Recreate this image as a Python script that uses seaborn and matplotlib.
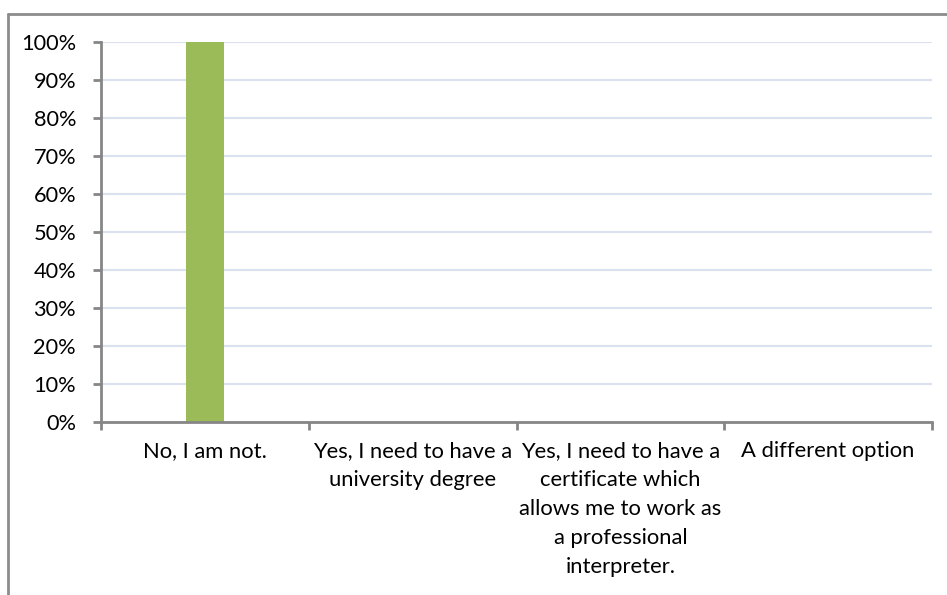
import matplotlib
matplotlib.use("Agg")
import matplotlib.pyplot as plt
import seaborn as sns
import pandas as pd
import numpy as np
from matplotlib.lines import Line2D
from matplotlib.ticker import FixedLocator, PercentFormatter

categories = [
    "No, I am not.",
    "Yes, I need to have a\nuniversity degree",
    "Yes, I need to have a\ncertificate which\nallows me to work as\na professional\ninterpreter.",
    "A different option",
]
values = [100, 0, 0, 0]
y_ticks = list(range(0, 101, 10))

sns.set_theme(style="white")
plt.rcParams['font.family'] = ['Lato', 'DejaVu Sans']

W, H = 947, 595
fig = plt.figure(figsize=(W / 100, H / 100), dpi=100)
ax = fig.add_axes([101 / W, 1 - 422 / H, (932 - 101) / W, (422 - 42) / H])

df = pd.DataFrame({"cat": categories, "val": values})
sns.barplot(data=df, x="cat", y="val", color="#9BBB59", width=0.18,
            saturation=1, linewidth=0, ax=ax, zorder=3)

ax.set_xlim(-0.5, len(categories) - 0.5)
ax.set_ylim(0, 100)
ax.set_xlabel("")
ax.set_ylabel("")

ax.yaxis.set_major_locator(FixedLocator(y_ticks))
ax.yaxis.set_major_formatter(PercentFormatter(decimals=0))
ax.grid(axis="y", color="#D9E2EE", linewidth=1.5, zorder=0)
ax.grid(axis="x", visible=False)

for s in ["top", "right"]:
    ax.spines[s].set_visible(False)
for s in ["left", "bottom"]:
    ax.spines[s].set_color("#868686")
    ax.spines[s].set_linewidth(2)
    ax.spines[s].set_zorder(4)

ax.tick_params(axis="y", which="major", direction="out", length=6, width=2,
               color="#868686", labelsize=15.7, pad=12, labelcolor="black", left=True)
ax.tick_params(axis="x", which="major", length=0, pad=14,
               labelsize=15.8, labelcolor="black")
ax.set_xticks(range(len(categories)))
ax.set_xticklabels(categories, linespacing=1.55, va="top", ha="center")
ax.set_xticks(np.arange(-0.5, len(categories)), minor=True)
ax.tick_params(axis="x", which="minor", direction="out", length=6, width=2,
               color="#868686", bottom=True)

# chart frame (top and left border)
fig.add_artist(Line2D([8 / W, 1], [1 - 13.5 / H, 1 - 13.5 / H],
                      transform=fig.transFigure, color="#8C8C8C", linewidth=2))
fig.add_artist(Line2D([8 / W, 8 / W], [0, 1 - 13.5 / H],
                      transform=fig.transFigure, color="#8C8C8C", linewidth=2))

fig.savefig("out.png", dpi=100, facecolor="white")
